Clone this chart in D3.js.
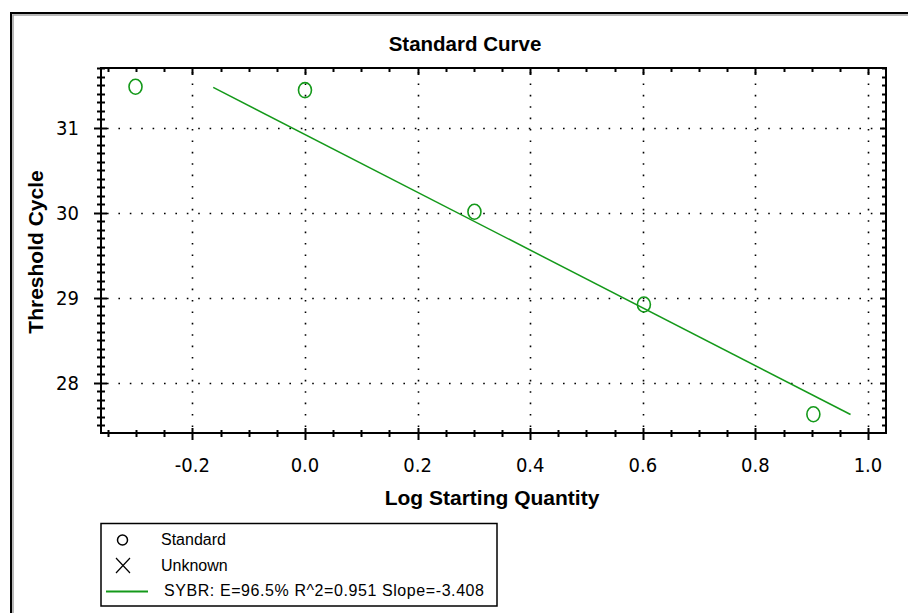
<!DOCTYPE html>
<html>
<head>
<meta charset="utf-8">
<script src="https://cdn.jsdelivr.net/npm/d3@7"></script>
<style>
	body { margin: 0; background: #fff; }
	text { font-family: "Liberation Sans", Arial, sans-serif; fill: #000; }
	.tick-label { font-family: "Liberation Sans Narrow", "Arial Narrow", "DejaVu Sans Condensed", sans-serif; }
</style>
</head>
<body>
<script>
	var width = 908;
	var height = 613;

	// data
	var logQty = [-0.301, 0.0, 0.301, 0.602, 0.903];
	var ct = [31.48, 31.44, 30.01, 28.92, 27.63];
	var lineRange = [-0.163, 0.969];
	var xTicks = [-0.2, 0.0, 0.2, 0.4, 0.6, 0.8, 1.0];
	var yTicks = [28, 29, 30, 31];
	var legendItems = ["Standard", "Unknown", "SYBR: E=96.5% R^2=0.951 Slope=-3.408"];

	var green = "#14991a";
	var plot = {left: 101, top: 68, right: 886, bottom: 433};

	var svg = d3.select("body").append("svg")
		.attr("width", width)
		.attr("height", height);

	// outer frame, with the grey inner shade
	svg.append("path")
		.attr("d", "M13,640 V15 H920")
		.attr("fill", "none")
		.attr("stroke", "#a0a0a0")
		.attr("stroke-width", 1.5);
	svg.append("path")
		.attr("d", "M11,640 V13 H920")
		.attr("fill", "none")
		.attr("stroke", "#000")
		.attr("stroke-width", 2);

	var x = d3.scaleLinear().domain([-0.3623, 1.0320]).range([plot.left, plot.right]);
	var y = d3.scaleLinear().domain([27.41, 31.70]).range([plot.bottom, plot.top]);

	// dotted grid
	svg.selectAll(".gx").data(xTicks).enter().append("line")
		.attr("x1", function(d) { return Math.round(x(d)) + 0.5; })
		.attr("x2", function(d) { return Math.round(x(d)) + 0.5; })
		.attr("y1", plot.top + 4).attr("y2", plot.bottom)
		.attr("stroke", "#000").attr("stroke-width", 1.6)
		.attr("stroke-dasharray", "1.6,9.8");
	svg.selectAll(".gy").data(yTicks).enter().append("line")
		.attr("y1", function(d) { return Math.round(y(d)) + 0.5; })
		.attr("y2", function(d) { return Math.round(y(d)) + 0.5; })
		.attr("x1", plot.left + 6).attr("x2", plot.right)
		.attr("stroke", "#000").attr("stroke-width", 1.6)
		.attr("stroke-dasharray", "1.6,9.8");

	// frame of plot
	svg.append("rect")
		.attr("x", plot.left).attr("y", plot.top)
		.attr("width", plot.right - plot.left).attr("height", plot.bottom - plot.top)
		.attr("fill", "none").attr("stroke", "#000").attr("stroke-width", 2);

	// minor/major ticks
	var xMinor = d3.range(-7, 21).map(function(i) { return i * 0.05; });
	var yMinor = d3.range(275, 318).map(function(i) { return i / 10; });
	var isMajorX = function(d) { return Math.abs(d * 5 - Math.round(d * 5)) < 1e-6; };
	var isMajorY = function(d) { return Math.abs(d - Math.round(d)) < 1e-6; };

	var ticks = svg.append("g").attr("stroke", "#000").attr("stroke-width", 2);
	xMinor.forEach(function(d) {
		var px = Math.round(x(d)) + 0.5;
		var big = isMajorX(d);
		ticks.append("line").attr("x1", px).attr("x2", px)
			.attr("y1", plot.bottom - (big ? 5 : 3)).attr("y2", plot.bottom + (big ? 7 : 4));
		ticks.append("line").attr("x1", px).attr("x2", px)
			.attr("y1", plot.top).attr("y2", plot.top + (big ? 7 : 4));
	});
	yMinor.forEach(function(d) {
		var py = Math.round(y(d)) + 0.5;
		var big = isMajorY(d);
		ticks.append("line").attr("y1", py).attr("y2", py)
			.attr("x1", plot.left - (big ? 7 : 4)).attr("x2", plot.left + (big ? 6 : 4));
		ticks.append("line").attr("y1", py).attr("y2", py)
			.attr("x1", plot.right - (big ? 6 : 4)).attr("x2", plot.right);
	});

	// tick labels
	var fmt = function(d) { return d3.format(".1f")(d).replace("\u2212", "-"); };
	svg.selectAll(".xl").data(xTicks).enter().append("text")
		.attr("class", "tick-label")
		.attr("x", function(d) { return x(d); })
		.attr("y", 472)
		.attr("text-anchor", "middle")
		.style("font-size", "20px")
		.text(fmt);
	svg.selectAll(".yl").data(yTicks).enter().append("text")
		.attr("class", "tick-label")
		.attr("x", 79)
		.attr("y", function(d) { return y(d) + 7.5; })
		.attr("text-anchor", "end")
		.style("font-size", "20px")
		.text(function(d) { return d; });

	// titles
	svg.append("text").attr("x", 465).attr("y", 51)
		.attr("text-anchor", "middle")
		.style("font-size", "20.5px").style("font-weight", "bold")
		.text("Standard Curve");
	svg.append("text").attr("x", 492).attr("y", 505)
		.attr("text-anchor", "middle")
		.style("font-size", "21px").style("font-weight", "bold")
		.text("Log Starting Quantity");
	svg.append("text")
		.attr("transform", "translate(43,252) rotate(-90)")
		.attr("text-anchor", "middle")
		.style("font-size", "21px").style("font-weight", "bold")
		.text("Threshold Cycle");

	// regression line fitted to the standards
	var mx = d3.mean(logQty), my = d3.mean(ct);
	var sxy = d3.sum(logQty, function(d, i) { return (d - mx) * (ct[i] - my); });
	var sxx = d3.sum(logQty, function(d) { return (d - mx) * (d - mx); });
	var slope = sxy / sxx, icpt = my - slope * mx;

	svg.append("line")
		.attr("x1", x(lineRange[0])).attr("y1", y(icpt + slope * lineRange[0]))
		.attr("x2", x(lineRange[1])).attr("y2", y(icpt + slope * lineRange[1]))
		.attr("stroke", green).attr("stroke-width", 1.5);

	// standards
	svg.selectAll(".pt").data(logQty).enter().append("ellipse")
		.attr("cx", function(d) { return x(d); })
		.attr("cy", function(d, i) { return y(ct[i]); })
		.attr("rx", 6.5).attr("ry", 7.5)
		.attr("fill", "none").attr("stroke", green).attr("stroke-width", 1.6);

	// legend
	var lg = svg.append("g");
	lg.append("rect").attr("x", 101).attr("y", 523.5).attr("width", 396).attr("height", 82.5)
		.attr("fill", "#fff").attr("stroke", "#000").attr("stroke-width", 1.5);
	lg.append("circle").attr("cx", 122.5).attr("cy", 540).attr("r", 5)
		.attr("fill", "none").attr("stroke", "#000").attr("stroke-width", 1.5);
	lg.append("path").attr("d", "M116,558 L130,573 M130,558 L116,573")
		.attr("stroke", "#000").attr("stroke-width", 1.2);
	lg.append("line").attr("x1", 106).attr("x2", 148).attr("y1", 591.5).attr("y2", 591.5)
		.attr("stroke", green).attr("stroke-width", 2);
	var legendY = [545, 571, 596];
	lg.selectAll(".lt").data(legendItems).enter().append("text")
		.attr("x", function(d, i) { return i == 2 ? 164 : 161; })
		.attr("y", function(d, i) { return legendY[i]; })
		.style("font-size", "16px")
		.attr("textLength", function(d, i) { return i == 2 ? 320 : null; })
		.text(function(d) { return d; });
</script>
</body>
</html>
